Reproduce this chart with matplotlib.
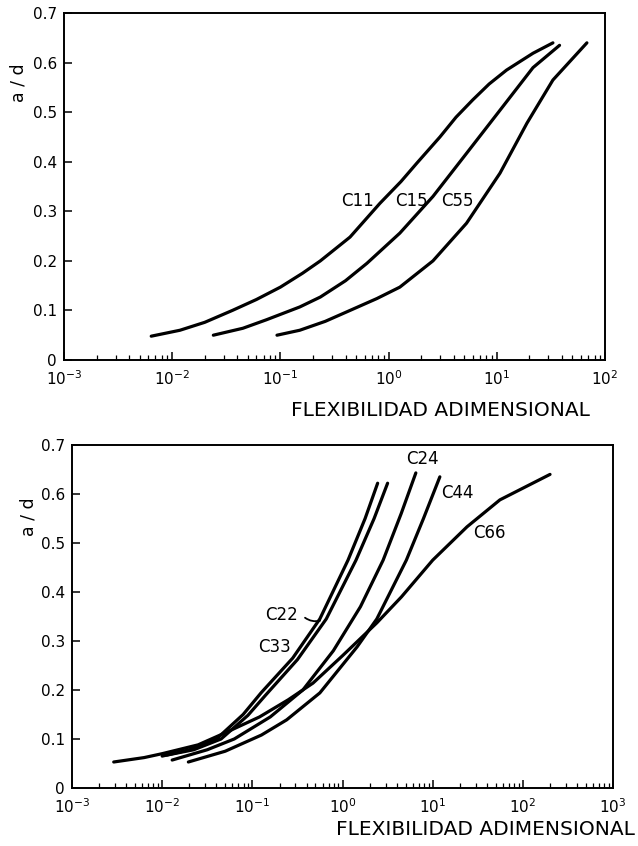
import numpy as np
import matplotlib
matplotlib.use("Agg")
import matplotlib.pyplot as plt
from matplotlib.ticker import LogLocator, NullFormatter

# ---------------- data (flexibility, a/d) ----------------
# Top panel
c11_x = [0.0064, 0.0118, 0.020, 0.036, 0.060, 0.100, 0.160, 0.234, 0.44, 0.83, 1.30, 1.82, 2.98, 4.2, 6.0, 8.5, 12.3, 21.6, 33.0]
c11_y = [0.048, 0.060, 0.076, 0.100, 0.122, 0.147, 0.175, 0.200, 0.248, 0.316, 0.360, 0.397, 0.450, 0.490, 0.525, 0.557, 0.585, 0.619, 0.640]

c15_x = [0.024, 0.045, 0.074, 0.151, 0.234, 0.40, 0.63, 1.27, 2.57, 5.25, 10.7, 21.6, 38.0]
c15_y = [0.050, 0.064, 0.081, 0.107, 0.127, 0.160, 0.195, 0.256, 0.330, 0.417, 0.504, 0.590, 0.635]

c55_x = [0.093, 0.151, 0.26, 0.44, 0.78, 1.27, 2.57, 5.25, 10.7, 19.0, 33.0, 68.0]
c55_y = [0.050, 0.060, 0.078, 0.100, 0.124, 0.147, 0.200, 0.276, 0.377, 0.478, 0.565, 0.640]

# Bottom panel
c22_x = [0.010, 0.020, 0.040, 0.079, 0.126, 0.28, 0.56, 1.15, 1.78, 2.45]
c22_y = [0.065, 0.078, 0.100, 0.150, 0.195, 0.265, 0.345, 0.465, 0.550, 0.622]

c33_x = [0.0112, 0.0224, 0.045, 0.089, 0.141, 0.316, 0.66, 1.41, 2.24, 3.16]
c33_y = [0.067, 0.078, 0.100, 0.148, 0.190, 0.262, 0.345, 0.465, 0.550, 0.622]

c24_x = [0.0129, 0.0316, 0.063, 0.158, 0.363, 0.79, 1.58, 2.82, 4.47, 6.5]
c24_y = [0.057, 0.078, 0.100, 0.145, 0.200, 0.280, 0.370, 0.465, 0.560, 0.643]

c44_x = [0.0195, 0.050, 0.126, 0.240, 0.56, 1.45, 2.40, 5.1, 7.9, 12.0]
c44_y = [0.053, 0.075, 0.108, 0.139, 0.194, 0.288, 0.345, 0.465, 0.550, 0.635]

c66_x = [0.0029, 0.0063, 0.010, 0.025, 0.052, 0.120, 0.25, 0.47, 1.0, 2.40, 4.5, 10.0, 24.0, 55.6, 200.0]
c66_y = [0.053, 0.062, 0.070, 0.088, 0.114, 0.145, 0.180, 0.214, 0.270, 0.337, 0.390, 0.465, 0.533, 0.588, 0.640]

top_series = [(c11_x, c11_y), (c15_x, c15_y), (c55_x, c55_y)]
bot_series = [(c22_x, c22_y), (c33_x, c33_y), (c24_x, c24_y), (c44_x, c44_y), (c66_x, c66_y)]

yticks = [0, 0.1, 0.2, 0.3, 0.4, 0.5, 0.6, 0.7]
ytick_labels = ["0", "0.1", "0.2", "0.3", "0.4", "0.5", "0.6", "0.7"]

plt.rcParams["font.family"] = ["DejaVu Sans"]

fig = plt.figure(figsize=(6.38, 8.46), dpi=100)
ax1 = fig.add_axes([0.1003, 0.5745, 0.848, 0.410])
ax2 = fig.add_axes([0.1129, 0.0686, 0.848, 0.4054])


def style(ax, xmin, xmax):
    ax.set_xscale("log")
    ax.set_xlim(xmin, xmax)
    ax.set_ylim(0, 0.7)
    for s in ax.spines.values():
        s.set_linewidth(1.4)
    ax.set_yticks(yticks)
    ax.set_yticklabels(ytick_labels)
    ax.xaxis.set_major_locator(LogLocator(base=10, numticks=20))
    ax.xaxis.set_minor_locator(LogLocator(base=10, subs=np.arange(2, 10), numticks=100))
    ax.xaxis.set_minor_formatter(NullFormatter())
    ax.tick_params(axis="both", which="major", direction="in", length=6, width=1.1,
                   labelsize=11, top=False, right=False)
    ax.tick_params(axis="x", which="major", pad=7)
    ax.tick_params(axis="y", which="major", pad=5)
    ax.tick_params(axis="x", which="minor", direction="in", length=3.5, width=0.9, top=False)
    ax.tick_params(axis="y", which="minor", left=False, right=False)


style(ax1, 1e-3, 1e2)
style(ax2, 1e-3, 1e3)

for x, y in top_series:
    ax1.plot(x, y, color="black", lw=2.3, solid_capstyle="round", solid_joinstyle="round")
for x, y in bot_series:
    ax2.plot(x, y, color="black", lw=2.3, solid_capstyle="round", solid_joinstyle="round")

# labels on curves
lab_kw = dict(fontsize=12, color="black", ha="center", va="center")
ax1.text(10 ** -0.29, 0.32, "C11", **lab_kw)
ax1.text(10 ** 0.215, 0.32, "C15", **lab_kw)
ax1.text(10 ** 0.64, 0.32, "C55", **lab_kw)

ax2.text(10 ** -0.68, 0.353, "C22", **lab_kw)
ax2.annotate("", xy=(10 ** -0.22, 0.343), xytext=(10 ** -0.44, 0.351),
             arrowprops=dict(arrowstyle="-", lw=1.3, color="black",
                             connectionstyle="arc3,rad=0.3"))
ax2.text(10 ** -0.75, 0.288, "C33", **lab_kw)
ax2.text(10 ** 0.89, 0.672, "C24", **lab_kw)
ax2.text(10 ** 1.27, 0.603, "C44", **lab_kw)
ax2.text(10 ** 1.63, 0.52, "C66", **lab_kw)

# axis labels
ax1.text(-0.085, 0.80, "a / d", rotation=90, transform=ax1.transAxes,
         fontsize=12.5, ha="center", va="center")
ax2.text(-0.081, 0.79, "a / d", rotation=90, transform=ax2.transAxes,
         fontsize=12.5, ha="center", va="center")
fig.text(590 / 638, 1 - 410 / 846, "FLEXIBILIDAD ADIMENSIONAL", fontsize=14.5,
         ha="right", va="center")
fig.text(635 / 638, 1 - 829 / 846, "FLEXIBILIDAD ADIMENSIONAL", fontsize=14.5,
         ha="right", va="center")

fig.savefig("out.png", dpi=100, facecolor="white")
